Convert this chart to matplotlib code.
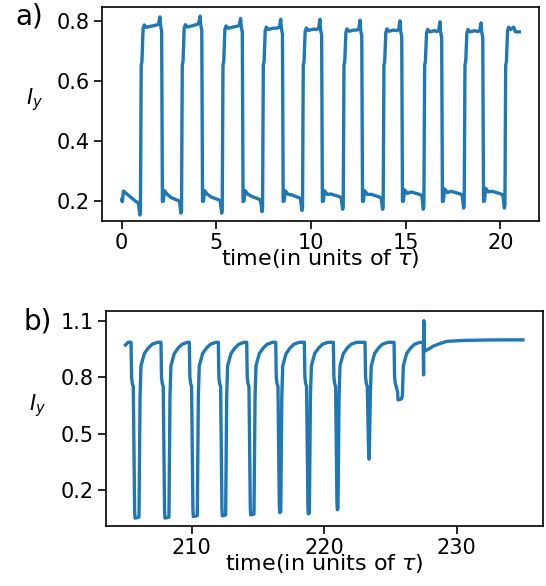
import numpy as np
import matplotlib
matplotlib.use("Agg")
import matplotlib.pyplot as plt

# ---------------- panel a data ----------------
a_rise_t = [1.00, 3.17, 5.32, 7.45, 9.56, 11.71, 13.82, 15.97, 18.10, 20.25]
a_fall_t = [2.11, 4.23, 6.37, 8.49, 10.56, 12.68, 14.79, 16.90, 19.07]
a_hi_start = [0.775, 0.776, 0.772, 0.768, 0.765, 0.762, 0.762, 0.760, 0.760, 0.768]
a_hi_end = [0.787, 0.789, 0.783, 0.777, 0.772, 0.770, 0.768, 0.765, 0.765]
a_spike = [0.814, 0.817, 0.809, 0.806, 0.806, 0.803, 0.801, 0.798, 0.794]
a_lo_bump = [0.233, 0.234, 0.234, 0.234, 0.234, 0.234, 0.234, 0.237, 0.240, 0.242]
a_lo_end = [0.198, 0.203, 0.205, 0.207, 0.212, 0.215, 0.214, 0.222, 0.224, 0.224]
a_lo_dip = [0.153, 0.159, 0.159, 0.164, 0.168, 0.172, 0.172, 0.172, 0.176, 0.176]
a_end_t, a_end_v = 21.0, 0.764
# shape of one cycle (offsets in time / levels)
a_low_dt = [0.04, 0.09, 0.15, 0.30, 0.50]
a_rise_dt = [0.03, 0.07, 0.13, 0.19, 0.30]
a_rise_lv = [0.653, 0.665]

# ---------------- panel b data ----------------
b_start_t, b_start_v = 205.0, 0.971
b_drop_t = [205.42, 207.68, 209.82, 212.01, 214.15, 216.34, 218.50, 220.69, 223.08, 225.27]
b_min = [0.051, 0.051, 0.059, 0.063, 0.068, 0.080, 0.073, 0.095, 0.364, 0.679]
b_bottom_w = [0.30, 0.30, 0.30, 0.25, 0.25, 0.08, 0.08, 0.05, 0.02, 0.25]
b_top = [0.985, 0.985, 0.985, 0.985, 0.985, 0.985, 0.985, 0.985, 0.985, 0.985]
b_rec_dt = [0.08, 0.15, 0.40, 0.70, 1.00, 1.40]
b_rec_lv = [0.70, 0.86, 0.925, 0.955, 0.975, 0.985]
b_spike_t = 227.52
b_spike_lo, b_spike_hi = 0.812, 1.10
b_tail_t = [227.62, 227.9, 228.24, 228.8, 229.25, 230.5, 232.0, 233.5, 235.0]
b_tail_v = [0.940, 0.950, 0.965, 0.980, 0.990, 0.995, 0.997, 0.998, 0.998]

# ---------------- build traces ----------------
ta, ya = [0.0, 0.02], [0.205, 0.198]
for k in range(10):
    s = 0.0 if k == 0 else a_fall_t[k - 1]
    r = a_rise_t[k]
    if k == 0:
        ta += [0.04, 0.09, 0.30, 0.50]
        ya += [0.198, a_lo_bump[0], 0.222, 0.212]
    else:
        ta += [s + d for d in a_low_dt]
        ya += [0.198, 0.200, a_lo_bump[k], a_lo_bump[k] - 0.012, a_lo_end[k] + 0.008]
    ta += [r - 0.25, r - 0.12, r - 0.04, r - 0.01]
    ya += [a_lo_end[k], a_lo_end[k] - 0.004, a_lo_dip[k], a_lo_dip[k] + 0.01]
    ta += [r + a_rise_dt[0], r + a_rise_dt[1], r + a_rise_dt[2], r + a_rise_dt[3], r + a_rise_dt[4]]
    ya += [a_rise_lv[0], a_rise_lv[1], a_hi_start[k], a_hi_start[k] + 0.012, a_hi_start[k] + 0.004]
    if k < 9:
        f = a_fall_t[k]
        ta += [r + 0.55, f - 0.25, f - 0.16, f - 0.09, f - 0.06, f]
        ya += [a_hi_start[k] + 0.008, a_hi_end[k], a_hi_end[k] + 0.004, a_spike[k],
               a_hi_end[k], a_hi_end[k] - 0.02]
    else:
        ta += [r + 0.45, r + 0.55, a_end_t]
        ya += [a_hi_start[k] + 0.012, a_hi_start[k] - 0.004, a_end_v]

tb, yb = [b_start_t, b_start_t + 0.2], [b_start_v, b_top[0]]
for k in range(10):
    d = b_drop_t[k]
    m = b_min[k]
    w = b_bottom_w[k]
    tb += [d, d + 0.04, d + 0.10, d + 0.17, d + 0.27, d + 0.30, d + 0.30 + w]
    yb += [b_top[k], 0.80, 0.765, max(0.75, m + 0.06), m + 0.04, m, m + 0.005]
    e = d + 0.30 + w
    tb += [e + dt for dt in b_rec_dt]
    yb += b_rec_lv
tb += [b_spike_t - 0.05, b_spike_t - 0.02, b_spike_t, b_spike_t + 0.03]
yb += [0.985, b_spike_lo, b_spike_hi, 0.95]
tb += b_tail_t
yb += b_tail_v

# ---------------- plot ----------------
color = "#1f77b4"
fs_tick = 15
fs_lab = 16
fig = plt.figure(figsize=(5.46, 5.86), dpi=100)
ax1 = fig.add_axes([102 / 546, 1 - 221 / 586, 437 / 546, 214 / 586])
ax2 = fig.add_axes([106 / 546, 1 - 526 / 586, 436.7 / 546, 215.3 / 586])

ax1.plot(ta, ya, color=color, lw=2.4)
ax1.set_xlim(-1.04, 22.04)
ax1.set_ylim(0.133, 0.847)
ax1.set_xticks([0, 5, 10, 15, 20])
ax1.set_yticks([0.2, 0.4, 0.6, 0.8])
ax1.set_xlabel(r"time(in units of $\tau$)", fontsize=fs_lab, labelpad=-5)
ax1.text(-0.154, 0.565, r"$I_y$", transform=ax1.transAxes, fontsize=fs_tick,
         ha="center", va="center")
ax1.text(-0.166, 0.955, "a)", transform=ax1.transAxes, fontsize=20,
         ha="center", va="center")

ax2.plot(tb, yb, color=color, lw=2.4)
ax2.set_xlim(203.53, 236.49)
ax2.set_ylim(0.009, 1.153)
ax2.set_xticks([210, 220, 230])
ax2.set_yticks([0.2, 0.5, 0.8, 1.1])
ax2.set_xlabel(r"time(in units of $\tau$)", fontsize=fs_lab, labelpad=-5)
ax2.text(-0.157, 0.557, r"$I_y$", transform=ax2.transAxes, fontsize=fs_tick,
         ha="center", va="center")
ax2.text(-0.156, 0.95, "b)", transform=ax2.transAxes, fontsize=20,
         ha="center", va="center")

for ax in (ax1, ax2):
    ax.tick_params(labelsize=fs_tick, length=5.5, width=1.2)
    for sp in ax.spines.values():
        sp.set_linewidth(1.2)

fig.savefig("out.png", dpi=100)
